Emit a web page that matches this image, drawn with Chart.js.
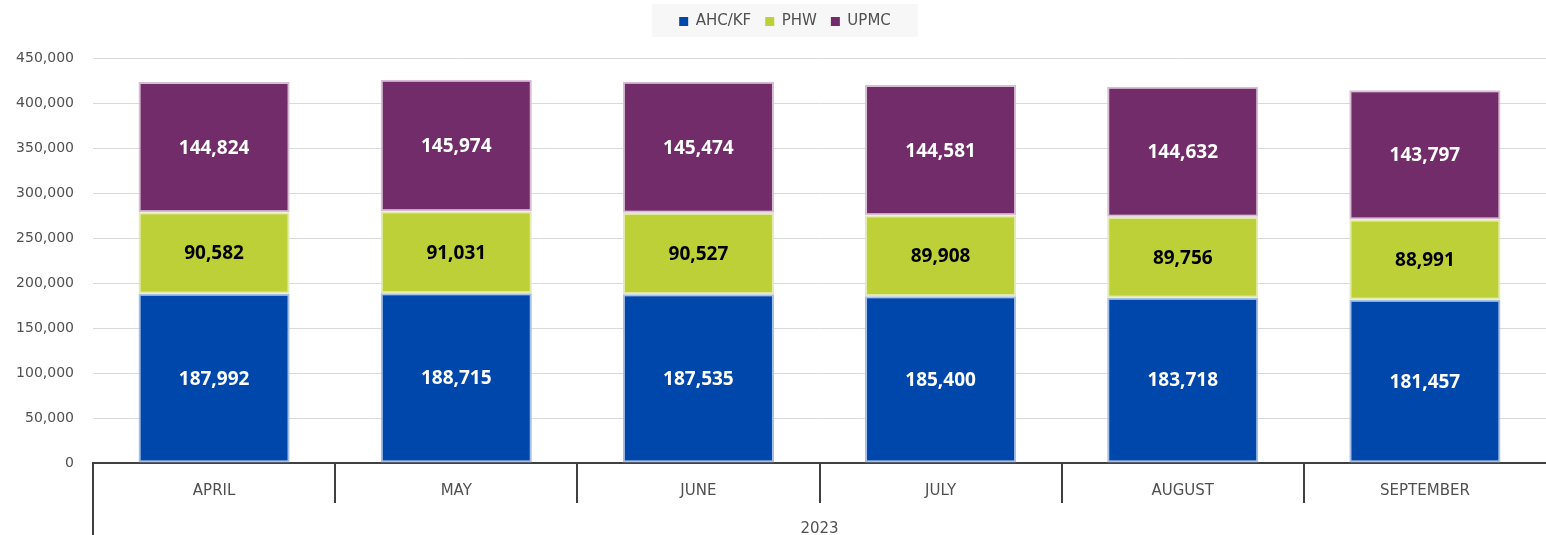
<!DOCTYPE html>
<html><head><meta charset="utf-8">
<script src="https://cdn.jsdelivr.net/npm/chart.js@4.4.0/dist/chart.umd.min.js"></script>
<style>html,body{margin:0;padding:0;background:#fff;overflow:hidden}#wrap{width:1546px;height:535px}</style>
</head><body><div id="wrap"><canvas id="c" width="1546" height="535"></canvas></div>
<script>
const categories = ['APRIL', 'MAY', 'JUNE', 'JULY', 'AUGUST', 'SEPTEMBER'];
const yearLabel = '2023';
const seriesNames = ['AHC/KF', 'PHW', 'UPMC'];
const ahcValues = [187992, 188715, 187535, 185400, 183718, 181457];
const phwValues = [90582, 91031, 90527, 89908, 89756, 88991];
const upmcValues = [144824, 145974, 145474, 144581, 144632, 143797];
const yMax = 450000;
const yStep = 50000;

const colors = ['#0047AB', '#BDD038', '#712C69'];
const borders = ['#a7bfe6', '#e3ecb0', '#d8bdd5'];
const labelColors = ['#ffffff', '#000000', '#ffffff'];
const seriesValues = [ahcValues, phwValues, upmcValues];

const fmt = v => Number(v).toLocaleString('en-US');

const bgPlugin = {
  id: 'bg',
  beforeDraw(chart) {
    const ctx = chart.ctx;
    ctx.save();
    ctx.fillStyle = '#ffffff';
    ctx.fillRect(0, 0, chart.width, chart.height);
    const lg = chart.legend;
    if (lg && lg.lineWidths) {
      const cx = (lg.left + lg.right) / 2;
      const w = lg.lineWidths[0] + 40;
      ctx.fillStyle = '#f7f7f7';
      ctx.fillRect(cx - w / 2, 4, w, 33);
    }
    ctx.restore();
  }
};

const legendFitPlugin = {
  id: 'legendFit',
  beforeLayout(chart) {
    const lg = chart.legend;
    if (lg && !lg._patched) {
      const orig = lg.fit.bind(lg);
      lg.fit = function () { orig(); this.height = 58; };
      lg._patched = true;
    }
  },
  afterLayout(chart) {
    const lg = chart.legend;
    if (lg) { lg.left += 12; lg.right += 12; }
  }
};

const valueLabelPlugin = {
  id: 'valueLabels',
  afterDatasetsDraw(chart) {
    const ctx = chart.ctx;
    ctx.save();
    ctx.font = 'bold 19px "Open Sans"';
    ctx.textAlign = 'center';
    ctx.textBaseline = 'middle';
    chart.data.datasets.forEach((ds, di) => {
      const meta = chart.getDatasetMeta(di);
      meta.data.forEach((bar, i) => {
        const p = bar.getProps(['x', 'y', 'base'], true);
        ctx.fillStyle = labelColors[di];
        ctx.fillText(fmt(ds.data[i]), p.x, (p.y + p.base) / 2 + 1);
      });
    });
    ctx.restore();
  }
};

const axisPlugin = {
  id: 'axisLines',
  afterDraw(chart) {
    const ctx = chart.ctx;
    const a = chart.chartArea;
    ctx.save();
    ctx.strokeStyle = '#404040';
    ctx.lineWidth = 2;
    ctx.beginPath();
    ctx.moveTo(a.left, a.bottom);
    ctx.lineTo(a.left, chart.height);
    ctx.stroke();
    ctx.restore();
  }
};

new Chart(document.getElementById('c'), {
  type: 'bar',
  data: {
    labels: categories,
    datasets: seriesNames.map((name, i) => ({
      label: name,
      data: seriesValues[i],
      backgroundColor: colors[i],
      borderColor: borders[i],
      borderWidth: 2,
      borderSkipped: false,
      categoryPercentage: 1,
      barPercentage: 0.624
    }))
  },
  options: {
    responsive: false,
    animation: false,
    devicePixelRatio: 1,
    layout: { padding: { left: 0, right: 0, top: 0, bottom: 0 } },
    plugins: {
      tooltip: { enabled: false },
      legend: {
        position: 'top',
        labels: {
          boxWidth: 9,
          boxHeight: 9,
          padding: 14,
          color: '#505050',
          font: { family: 'DejaVu Sans', size: 15 },
          generateLabels(chart) {
            const items = Chart.defaults.plugins.legend.labels.generateLabels(chart);
            items.forEach(it => { it.lineWidth = 0; it.strokeStyle = it.fillStyle; });
            return items;
          }
        }
      }
    },
    scales: {
      x: {
        stacked: true,
        border: { display: true, color: '#404040', width: 2 },
        grid: {
          offset: true,
          drawOnChartArea: false,
          drawTicks: true,
          tickLength: 40,
          lineWidth: 2,
          color: ctx => (ctx.type === 'tick' ? '#404040' : 'rgba(0,0,0,0)')
        },
        ticks: {
          color: '#505050',
          padding: -21,
          font: { family: 'DejaVu Sans', size: 15 },
          maxRotation: 0
        },
        title: {
          display: true,
          text: yearLabel,
          color: '#505050',
          font: { family: 'DejaVu Sans', size: 15 },
          padding: { top: 0, bottom: -3 }
        },
        afterFit(scale) { scale.height = 72; }
      },
      y: {
        stacked: true,
        min: 0,
        max: yMax,
        border: { display: false },
        grid: { color: '#d9d9d9', lineWidth: 1, drawTicks: false },
        ticks: {
          stepSize: yStep,
          padding: 19,
          color: '#505050',
          font: { family: 'DejaVu Sans', size: 14 },
          callback: v => fmt(v)
        },
        afterFit(scale) { scale.width = 93; }
      }
    }
  },
  plugins: [bgPlugin, legendFitPlugin, valueLabelPlugin, axisPlugin]
});
</script></body></html>
